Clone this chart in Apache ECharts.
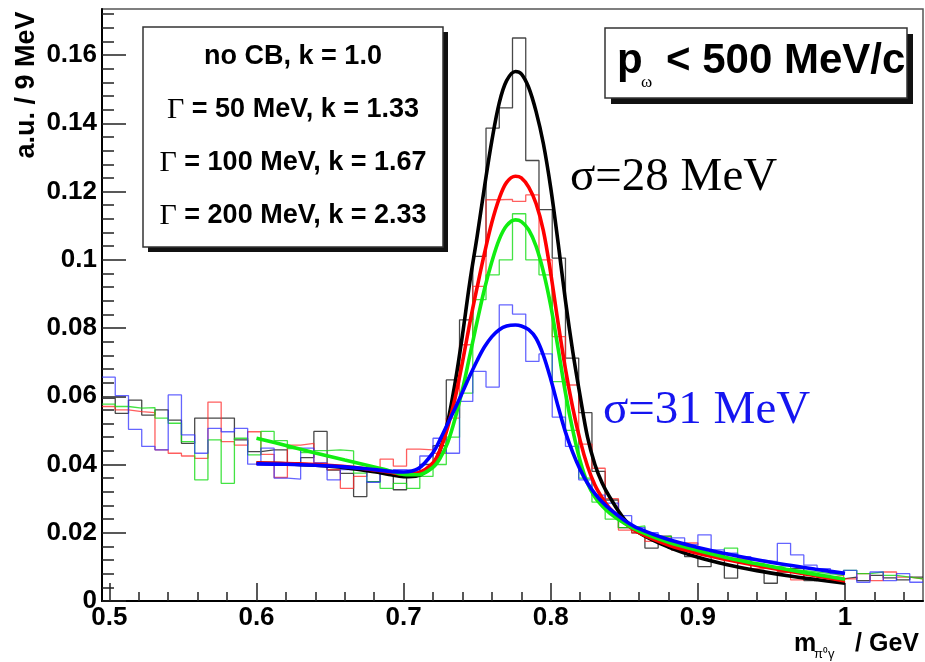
<!DOCTYPE html>
<html>
<head>
<meta charset="utf-8">
<script src="https://cdn.jsdelivr.net/npm/echarts@6/dist/echarts.min.js"></script>
<style>
html,body{margin:0;padding:0;background:#fff;}
#c{width:925px;height:662px;}
</style>
</head>
<body>
<div id="c"></div>
<script>
// ---- data ----
const binStart = 0.495;
const binWidth = 0.009;

const histBlack = [0.0594,0.0550,0.0589,0.0545,0.0560,0.0530,0.0462,0.0536,0.0536,0.0536,
 0.0472,0.0438,0.0443,0.0443,0.0405,0.0420,0.0497,0.0384,0.0374,0.0306,
 0.0350,0.0380,0.0326,0.0372,0.0400,0.0455,0.0648,0.0824,0.1010,0.1386,
 0.1445,0.1650,0.1291,0.1147,0.1005,0.0712,0.0552,0.0380,0.0296,0.0215,
 0.0200,0.0155,0.0190,0.0150,0.0130,0.0101,0.0135,0.0067,0.0110,0.0090,
 0.0052,0.0085,0.0095,0.0060,0.0075,0.0065,0.0070,0.0060,0.0075,0.0068,0.0062,0.0070];

const histRed = [0.0570,0.0560,0.0555,0.0552,0.0443,0.0433,0.0425,0.0418,0.0583,0.0467,
 0.0457,0.0496,0.0430,0.0362,0.0457,0.0462,0.0405,0.0385,0.0330,0.0365,
 0.0385,0.0416,0.0395,0.0445,0.0443,0.0433,0.0536,0.0751,0.0922,0.1176,
 0.1177,0.1171,0.1190,0.1000,0.0775,0.0633,0.0460,0.0389,0.0300,0.0208,
 0.0200,0.0175,0.0185,0.0150,0.0170,0.0150,0.0140,0.0125,0.0120,0.0095,
 0.0100,0.0085,0.0062,0.0080,0.0070,0.0075,0.0065,0.0080,0.0060,0.0085,0.0070,0.0065];

const histGreen = [0.0577,0.0570,0.0565,0.0567,0.0536,0.0521,0.0467,0.0355,0.0472,0.0345,
 0.0477,0.0428,0.0497,0.0470,0.0447,0.0435,0.0441,0.0443,0.0440,0.0375,
 0.0350,0.0330,0.0345,0.0330,0.0365,0.0400,0.0480,0.0609,0.0883,0.0956,
 0.1000,0.1135,0.1000,0.0956,0.0643,0.0500,0.0360,0.0290,0.0240,0.0215,
 0.0220,0.0185,0.0190,0.0170,0.0160,0.0150,0.0135,0.0155,0.0120,0.0110,
 0.0100,0.0105,0.0090,0.0085,0.0080,0.0075,0.0090,0.0080,0.0085,0.0075,0.0070,0.0065];

const histBlue = [0.0656,0.0602,0.0503,0.0453,0.0443,0.0604,0.0487,0.0433,0.0506,0.0496,
 0.0506,0.0401,0.0448,0.0360,0.0357,0.0448,0.0405,0.0355,0.0385,0.0390,
 0.0348,0.0372,0.0385,0.0380,0.0425,0.0477,0.0433,0.0585,0.0673,0.0627,
 0.0868,0.0841,0.0702,0.0724,0.0539,0.0453,0.0355,0.0310,0.0287,0.0250,
 0.0215,0.0200,0.0175,0.0185,0.0165,0.0194,0.0150,0.0140,0.0130,0.0120,
 0.0115,0.0169,0.0135,0.0105,0.0095,0.0080,0.0090,0.0055,0.0085,0.0060,0.0080,0.0055];

const curveX = [0.60,0.62,0.64,0.66,0.68,0.69,0.70,0.71,0.72,0.725,0.73,0.735,0.74,0.745,0.75,0.755,0.76,0.765,0.77,0.776,0.78,0.785,0.79,0.795,0.80,0.805,0.81,0.815,0.82,0.825,0.83,0.835,0.84,0.85,0.86,0.88,0.90,0.92,0.94,0.96,0.98,1.00];

const curveBlack = [0.0404,0.0402,0.0398,0.0391,0.0379,0.0371,0.0364,0.0368,0.0400,0.0445,0.0525,0.0640,0.0780,0.0935,0.1070,0.1215,0.1350,0.1460,0.1525,0.1552,0.1545,0.1505,0.1435,0.1340,0.1210,0.1050,0.0880,0.0730,0.0600,0.0480,0.0400,0.0345,0.0305,0.0240,0.0200,0.0158,0.0128,0.0106,0.0089,0.0075,0.0063,0.0052];

const curveRed = [0.0404,0.0403,0.0400,0.0394,0.0384,0.0378,0.0372,0.0376,0.0405,0.0445,0.0510,0.0595,0.0700,0.0815,0.0920,0.1020,0.1110,0.1180,0.1227,0.1245,0.1240,0.1213,0.1165,0.1085,0.0960,0.0815,0.0680,0.0565,0.0470,0.0395,0.0340,0.0302,0.0272,0.0230,0.0200,0.0164,0.0140,0.0121,0.0104,0.0089,0.0074,0.0059];

const curveGreen = [0.0477,0.0456,0.0434,0.0413,0.0393,0.0382,0.0371,0.0370,0.0392,0.0420,0.0465,0.0535,0.0620,0.0720,0.0820,0.0915,0.0995,0.1060,0.1100,0.1117,0.1112,0.1088,0.1040,0.0965,0.0865,0.0740,0.0610,0.0500,0.0410,0.0345,0.0305,0.0278,0.0258,0.0228,0.0205,0.0172,0.0148,0.0127,0.0109,0.0093,0.0078,0.0064];

const curveBlue = [0.0402,0.0401,0.0398,0.0393,0.0385,0.0380,0.0378,0.0388,0.0435,0.0475,0.0520,0.0565,0.0612,0.0660,0.0705,0.0745,0.0775,0.0795,0.0806,0.0809,0.0806,0.0795,0.0770,0.0720,0.0650,0.0570,0.0495,0.0435,0.0385,0.0345,0.0315,0.0290,0.0270,0.0237,0.0212,0.0180,0.0157,0.0138,0.0121,0.0106,0.0093,0.0081];

const xTicks = [0.5,0.6,0.7,0.8,0.9,1.0];
const xTickLabels = ['0.5','0.6','0.7','0.8','0.9','1'];
const yTicks = [0,0.02,0.04,0.06,0.08,0.10,0.12,0.14,0.16];
const yTickLabels = ['0','0.02','0.04','0.06','0.08','0.1','0.12','0.14','0.16'];

const legendLines = ['no CB, k = 1.0', ' = 50 MeV, k = 1.33', ' = 100 MeV, k = 1.67', ' = 200 MeV, k = 2.33'];

// ---- build ----
const X_MIN = 0.495, X_MAX = 1.053, Y_MIN = 0, Y_MAX = 0.1735;

function histData(vals){
  const out = [];
  for (let i = 0; i < vals.length; i++) out.push([binStart + i*binWidth, vals[i]]);
  out.push([binStart + vals.length*binWidth, vals[vals.length-1]]);
  return out;
}
function curveData(ys){ return curveX.map((x,i)=>[x, ys[i]]); }

const xMinor = [];
for (let i = 0; i < xTicks.length; i++) {
  for (let k = 1; k < 5; k++) { const v = xTicks[i] + k*0.02; if (v < X_MAX) xMinor.push(+v.toFixed(3)); }
}
const yMinor = [];
for (let i = 0; i < yTicks.length; i++) {
  for (let k = 1; k < 5; k++) { const v = yTicks[i] + k*0.004; if (v < Y_MAX) yMinor.push(+v.toFixed(4)); }
}

function labelFrom(ticks, labels){
  return function(v){
    const i = ticks.findIndex(t => Math.abs(t - v) < 1e-7);
    return i >= 0 ? labels[i] : '';
  };
}

const BOLD = 'Liberation Sans';
const chart = echarts.init(document.getElementById('c'), null, {renderer:'canvas'});

function hist(name, vals, color){
  return {name, type:'line', step:'end', data:histData(vals), symbol:'none',
    lineStyle:{color, width:1.3}, itemStyle:{color}, z:2, silent:true, animation:false};
}
function curve(name, ys, color){
  return {name, type:'line', smooth:0.35, data:curveData(ys), symbol:'none',
    lineStyle:{color, width:3.6}, itemStyle:{color}, z:5, silent:true, animation:false};
}

const legRich = {g:{font:'30px "Liberation Serif"', fill:'#000'}, b:{font:'bold 27px "Liberation Sans"', fill:'#000'}};

const option = {
  animation:false,
  grid:{left:102, right:2, top:9, bottom:61, show:true, borderColor:'#555', borderWidth:1.5, backgroundColor:'#fff'},
  xAxis:[
    {type:'value', min:X_MIN, max:X_MAX, position:'bottom',
     axisLine:{show:true, onZero:false, lineStyle:{color:'#000', width:2}},
     axisTick:{show:true, inside:true, length:18, customValues:xTicks, lineStyle:{color:'#222', width:1.5}},
     axisLabel:{show:true, customValues:xTicks, formatter:labelFrom(xTicks, xTickLabels), margin:4,
       color:'#000', fontFamily:BOLD, fontWeight:'bold', fontSize:26},
     splitLine:{show:false}},
    {type:'value', min:X_MIN, max:X_MAX, position:'bottom',
     axisLine:{show:false},
     axisTick:{show:true, inside:true, length:9, customValues:xMinor, lineStyle:{color:'#222', width:1.5}},
     axisLabel:{show:false, customValues:xMinor},
     splitLine:{show:false}}
  ],
  yAxis:[
    {type:'value', min:Y_MIN, max:Y_MAX, position:'left',
     axisLine:{show:true, onZero:false, lineStyle:{color:'#000', width:2}},
     axisTick:{show:true, inside:true, length:24, customValues:yTicks, lineStyle:{color:'#222', width:1.5}},
     axisLabel:{show:true, customValues:yTicks, formatter:labelFrom(yTicks, yTickLabels), margin:5,
       color:'#000', fontFamily:BOLD, fontWeight:'bold', fontSize:26},
     splitLine:{show:false}},
    {type:'value', min:Y_MIN, max:Y_MAX, position:'left',
     axisLine:{show:false},
     axisTick:{show:true, inside:true, length:12, customValues:yMinor, lineStyle:{color:'#222', width:1.5}},
     axisLabel:{show:false, customValues:yMinor},
     splitLine:{show:false}}
  ],
  series:[
    hist('hBlack', histBlack, 'rgba(40,40,40,0.85)'),
    hist('hRed', histRed, 'rgba(255,40,40,0.75)'),
    hist('hGreen', histGreen, 'rgba(20,220,20,0.8)'),
    hist('hBlue', histBlue, 'rgba(50,50,255,0.75)'),
    curve('fBlack', curveBlack, '#000000'),
    curve('fRed', curveRed, '#ff0000'),
    curve('fGreen', curveGreen, '#11ee11'),
    curve('fBlue', curveBlue, '#0000ff')
  ],
  graphic:[
    // legend box
    {type:'rect', shape:{x:148, y:32, width:300, height:220}, style:{fill:'#111'}, z:10},
    {type:'rect', shape:{x:143, y:27, width:300, height:220}, style:{fill:'#fff', stroke:'#333', lineWidth:1.5}, z:11},
    {type:'text', x:293, y:57, z:12, style:{text:legendLines[0], fill:'#000', font:'bold 27px "Liberation Sans"', align:'center', verticalAlign:'middle'}},
    {type:'text', x:293, y:110, z:12, style:{text:'{g|Γ}{b|'+legendLines[1]+'}', align:'center', verticalAlign:'middle', rich:legRich}},
    {type:'text', x:293, y:163, z:12, style:{text:'{g|Γ}{b|'+legendLines[2]+'}', align:'center', verticalAlign:'middle', rich:legRich}},
    {type:'text', x:293, y:216, z:12, style:{text:'{g|Γ}{b|'+legendLines[3]+'}', align:'center', verticalAlign:'middle', rich:legRich}},
    // p_omega box
    {type:'rect', shape:{x:611, y:34, width:302, height:70}, style:{fill:'#111'}, z:10},
    {type:'rect', shape:{x:605, y:28, width:302, height:70}, style:{fill:'#fff', stroke:'#333', lineWidth:1.5}, z:11},
    {type:'text', x:617, y:61, z:12, style:{text:'p', fill:'#000', font:'bold 42px "Liberation Sans"', align:'left', verticalAlign:'middle'}},
    {type:'text', x:641, y:83, z:12, style:{text:'ω', fill:'#000', font:'17px "Liberation Serif"', align:'left', verticalAlign:'middle'}},
    {type:'text', x:666, y:61, z:12, style:{text:'< 500 MeV/c', fill:'#000', font:'bold 42px "Liberation Sans"', align:'left', verticalAlign:'middle'}},
    // sigma annotations
    {type:'text', x:570, y:178, z:12, style:{text:'σ=28 MeV', fill:'#000', font:'47px "Liberation Serif"', align:'left', verticalAlign:'middle'}},
    {type:'text', x:603, y:411, z:12, style:{text:'σ=31 MeV', fill:'#1515f0', font:'47px "Liberation Serif"', align:'left', verticalAlign:'middle'}},
    // axis titles
    {type:'text', x:27, y:85, rotation:Math.PI/2, z:12, style:{text:'a.u. / 9 MeV', fill:'#000', font:'bold 27px "Liberation Sans"', align:'center', verticalAlign:'middle'}},
    {type:'text', x:794, y:644, z:12, style:{text:'m', fill:'#000', font:'bold 25px "Liberation Sans"', align:'left', verticalAlign:'middle'}},
    {type:'text', x:814, y:654, z:12, style:{text:'π⁰γ', fill:'#000', font:'13px "Liberation Sans"', align:'left', verticalAlign:'middle'}},
    {type:'text', x:919, y:644, z:12, style:{text:'/ GeV', fill:'#000', font:'bold 25px "Liberation Sans"', align:'right', verticalAlign:'middle'}}
  ]
};
chart.setOption(option);
</script>
</body>
</html>
